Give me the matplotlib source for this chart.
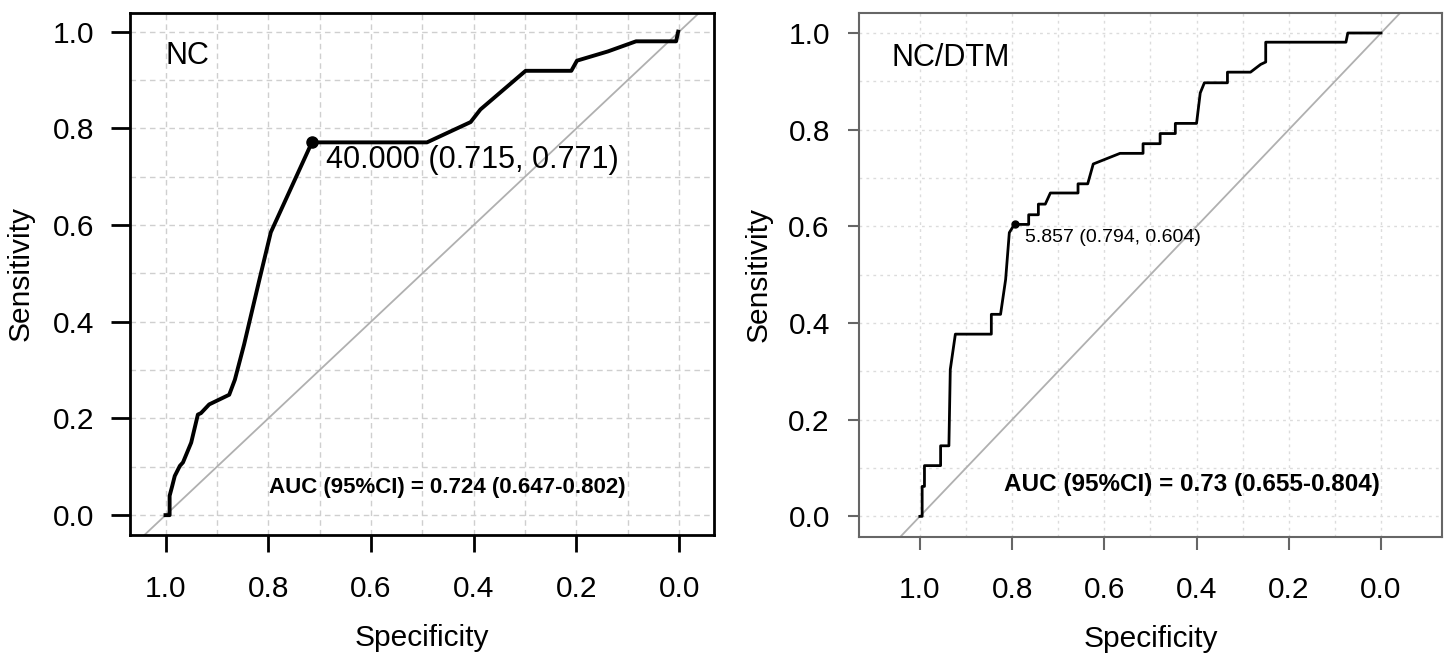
import matplotlib
matplotlib.use("Agg")
import matplotlib.pyplot as plt

# ---- data ----
nc_spec = [1.0, 0.992, 0.992, 0.987, 0.982, 0.972, 0.966, 0.95, 0.937, 0.931, 0.915,
           0.876, 0.865, 0.847, 0.817, 0.795, 0.715, 0.491, 0.406, 0.387, 0.299,
           0.21, 0.199, 0.139, 0.084, 0.006, 0.002]
nc_sens = [0.0, 0.0, 0.04, 0.06, 0.081, 0.102, 0.109, 0.15, 0.208, 0.211, 0.229,
           0.249, 0.28, 0.353, 0.488, 0.585, 0.771, 0.771, 0.813, 0.839, 0.919,
           0.919, 0.94, 0.959, 0.98, 0.98, 1.0]
nc_best = (0.715, 0.771)
nc_best_label = "40.000 (0.715, 0.771)"
nc_auc_label = "AUC (95%CI) = 0.724 (0.647-0.802)"

dtm_spec = [1.0, 0.995, 0.995, 0.99, 0.99, 0.955, 0.955, 0.937, 0.934, 0.923, 0.845,
            0.845, 0.825, 0.814, 0.806, 0.795, 0.764, 0.764, 0.743, 0.743, 0.728,
            0.717, 0.657, 0.657, 0.636, 0.624, 0.566, 0.516, 0.516, 0.479, 0.479,
            0.446, 0.446, 0.40, 0.392, 0.383, 0.333, 0.333, 0.283, 0.261, 0.25,
            0.25, 0.076, 0.072, 0.0]
dtm_sens = [0.0, 0.0, 0.062, 0.062, 0.105, 0.105, 0.146, 0.146, 0.304, 0.377, 0.377,
            0.418, 0.418, 0.49, 0.587, 0.604, 0.604, 0.624, 0.624, 0.646, 0.646,
            0.669, 0.669, 0.688, 0.688, 0.729, 0.751, 0.751, 0.771, 0.771, 0.792,
            0.792, 0.813, 0.813, 0.876, 0.897, 0.897, 0.919, 0.919, 0.935, 0.94,
            0.981, 0.981, 1.0, 1.0]
dtm_best = (0.794, 0.604)
dtm_best_label = "5.857 (0.794, 0.604)"
dtm_auc_label = "AUC (95%CI) = 0.73 (0.655-0.804)"

tick_vals = [1.0, 0.8, 0.6, 0.4, 0.2, 0.0]
tick_labels = ["1.0", "0.8", "0.6", "0.4", "0.2", "0.0"]
ytick_vals = [0.0, 0.2, 0.4, 0.6, 0.8, 1.0]
ytick_labels = ["0.0", "0.2", "0.4", "0.6", "0.8", "1.0"]
grid_vals = [i / 10 for i in range(11)]

plt.rcParams['font.family'] = ['Liberation Sans', 'DejaVu Sans']

fig = plt.figure(figsize=(14.5, 6.56), dpi=100)
ax1 = fig.add_axes([0.0897, 0.1845, 0.4028, 0.796])
ax2 = fig.add_axes([0.5924, 0.1819, 0.402, 0.798])

FS = 21.5

def setup(ax, xlim, ylim, frame_color, frame_lw, grid_color, grid_ls,
          tick_len_x, tick_len_y, xpad, ypad, ylabelpad):
    ax.set_xlim(*xlim)
    ax.set_ylim(*ylim)
    for v in grid_vals:
        ax.axvline(v, color=grid_color, lw=1.0, ls=grid_ls, zorder=0)
        ax.axhline(v, color=grid_color, lw=1.0, ls=grid_ls, zorder=0)
    ax.axline((1, 0), (0, 1), color="#b0b0b0", lw=1.3, zorder=1)
    for s in ax.spines.values():
        s.set_color(frame_color)
        s.set_linewidth(frame_lw)
    ax.set_xticks(tick_vals)
    ax.set_xticklabels(tick_labels)
    ax.set_yticks(ytick_vals)
    ax.set_yticklabels(ytick_labels)
    ax.tick_params(axis='x', length=tick_len_x, width=frame_lw, color=frame_color,
                   labelsize=FS, pad=xpad)
    ax.tick_params(axis='y', length=tick_len_y, width=frame_lw, color=frame_color,
                   labelsize=FS, pad=ypad)
    ax.set_xlabel("Specificity", fontsize=FS, labelpad=15)
    ax.set_ylabel("Sensitivity", fontsize=FS, labelpad=ylabelpad)

setup(ax1, (1.069, -0.068), (-0.041, 1.039), "black", 2.0, "#cfcfcf", (0, (4, 3)),
      12, 14, 17, 12, 13)
setup(ax2, (1.132, -0.132), (-0.042, 1.041), "#666666", 1.5, "#dcdcdc", (0, (2, 3)),
      9.5, 8, 19, 13, 11)

ax1.plot(nc_spec, nc_sens, color="black", lw=2.8, solid_joinstyle='round', zorder=3)
ax1.plot([nc_best[0]], [nc_best[1]], 'o', color="black", ms=8, zorder=4)
ax1.text(0.688, 0.735, nc_best_label, fontsize=22, va='center', ha='left')
ax1.text(1.0, 0.95, "NC", fontsize=22, va='center', ha='left')
ax1.text(0.452, 0.058, nc_auc_label, fontsize=16, fontweight='bold', va='center', ha='center')

ax2.plot(dtm_spec, dtm_sens, color="black", lw=2.0, zorder=3)
ax2.plot([dtm_best[0]], [dtm_best[1]], 'o', color="black", ms=5, zorder=4)
ax2.text(0.773, 0.577, dtm_best_label, fontsize=14, va='center', ha='left',
         family=['Liberation Sans Narrow', 'Liberation Sans'])
ax2.text(1.062, 0.949, "NC/DTM", fontsize=22, va='center', ha='left')
ax2.text(0.41, 0.065, dtm_auc_label, fontsize=17.5, fontweight='bold', va='center', ha='center')

fig.savefig("out.png", dpi=100)
